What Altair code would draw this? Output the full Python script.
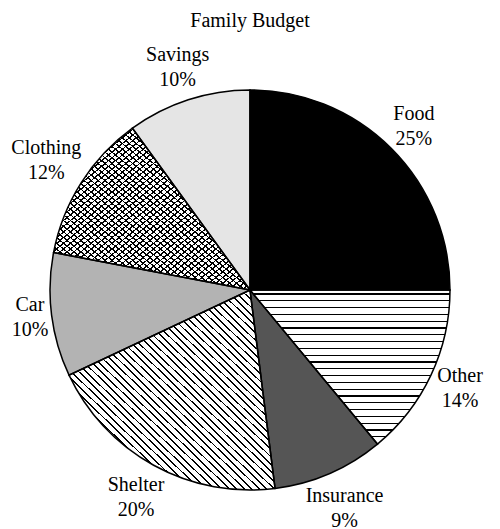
import math
import altair as alt
import pandas as pd

# ---- data ----
categories = ["Food", "Other", "Insurance", "Shelter", "Car", "Clothing", "Savings"]
percents = [25, 14, 9, 20, 10, 12, 10]
base_fills = ["#000000", "#ffffff", "#555555", "#ffffff", "#b3b3b3", "#ffffff", "#e5e5e5"]
labels = [f"{c}\n{p}%" for c, p in zip(categories, percents)]

TITLE = "Family Budget"
FONT = "Liberation Serif"
FONT_SIZE = 20
LINE_H = 25
R = 200
CX, CY = 242, 242
TOP_PAD = 40
# label distance: clear the circle by a gap plus the label's half extent
GAP, HALF_CHAR, HALF_H = 10, 3.2, 18

df = pd.DataFrame({
    "category": categories,
    "value": percents,
    "order": list(range(len(categories))),
    "label": labels,
})

theta_scale = alt.Scale(domain=[0, 100], range=[0, 2 * math.pi])


def slice_angles(name):
    i = categories.index(name)
    start = sum(percents[:i])
    end = start + percents[i]
    return start / 100 * 2 * math.pi, end / 100 * 2 * math.pi


def arc_bbox(name, r=R):
    a0, a1 = slice_angles(name)
    pts = [(0.0, 0.0), (r * math.sin(a0), -r * math.cos(a0)), (r * math.sin(a1), -r * math.cos(a1))]
    for k in range(0, 5):
        a = k * math.pi / 2
        if a0 < a < a1:
            pts.append((r * math.sin(a), -r * math.cos(a)))
    xs = [p[0] for p in pts]
    ys = [p[1] for p in pts]
    return max(xs) - min(xs), max(ys) - min(ys)


def stripes(x1, y1, x2, y2, span, spacing, width, ink, paper):
    period = spacing / span
    lw = width / span
    stops = [{"offset": 0, "color": paper}]
    t = period / 2
    while t + lw < 1:
        a = round(t, 5)
        b = round(t + lw, 5)
        stops += [
            {"offset": a, "color": paper},
            {"offset": a, "color": ink},
            {"offset": b, "color": ink},
            {"offset": b, "color": paper},
        ]
        t += period
    stops.append({"offset": 1, "color": paper})
    return {"gradient": "linear", "x1": x1, "y1": y1, "x2": x2, "y2": y2, "stops": stops}


def diag_span(name):
    w, h = arc_bbox(name)
    return 2 / math.sqrt(1 / w ** 2 + 1 / h ** 2)


w_o, h_o = arc_bbox("Other")
grad_other = stripes(0, 0, 0, 1, h_o, 6.8, 1.2, "#000000", "#ffffff")
grad_shelter = stripes(0, 1, 1, 0, diag_span("Shelter"), 5.2, 1.3, "#000000", "#ffffff")
grad_cloth_a = stripes(0, 1, 1, 0, diag_span("Clothing"), 4.4, 1.2, "#000000", "#ffffff")
grad_cloth_b = stripes(0, 0, 1, 1, diag_span("Clothing"), 4.4, 1.2, "#000000", "rgba(255,255,255,0)")

base = (
    alt.Chart(df)
    .transform_window(end="sum(value)", sort=[alt.SortField("order")], frame=[None, 0])
    .transform_calculate(
        start="datum.end - datum.value",
        mid="datum.end - datum.value / 2",
    )
    .transform_calculate(
        lr=(f"{R} + {GAP} + {HALF_CHAR} * max(length(datum.category), length(toString(datum.value)) + 1)"
            f" * abs(sin(datum.mid / 100 * 2 * PI)) + {HALF_H} * abs(cos(datum.mid / 100 * 2 * PI))")
    )
)

enc = dict(
    theta=alt.Theta("start:Q", scale=theta_scale),
    theta2=alt.Theta2("end:Q"),
    x=alt.value(CX),
    y=alt.value(CY),
)

fills = base.mark_arc(radius=R, strokeWidth=0).encode(
    color=alt.Color("category:N", scale=alt.Scale(domain=categories, range=base_fills), legend=None),
    **enc,
)


def pattern(name, grad):
    return base.transform_filter(alt.datum.category == name).mark_arc(
        radius=R, fill=grad, strokeWidth=0
    ).encode(**enc)


outline = base.mark_arc(radius=R, fillOpacity=0, stroke="#000000", strokeWidth=1.5).encode(**enc)

text = base.mark_text(
    font=FONT, fontSize=FONT_SIZE, lineBreak="\n", lineHeight=LINE_H,
    align="center", baseline="middle", color="#000000", dy=-LINE_H / 2,
).encode(
    theta=alt.Theta("mid:Q", scale=theta_scale),
    radius=alt.Radius("lr:Q", scale=None),
    text="label:N",
    x=alt.value(CX),
    y=alt.value(CY),
)

chart = alt.layer(
    fills,
    pattern("Other", grad_other),
    pattern("Shelter", grad_shelter),
    pattern("Clothing", grad_cloth_a),
    pattern("Clothing", grad_cloth_b),
    outline,
    text,
).properties(
    width=484,
    height=481,
    padding={"top": TOP_PAD, "left": 0, "right": 0, "bottom": 0},
    autosize=alt.AutoSizeParams(type="none"),
    title=alt.Title(TITLE, font=FONT, fontSize=FONT_SIZE, fontWeight="normal", color="#000000",
                    anchor="middle", offset=14),
).configure_view(stroke=None)

chart.save("out.html", embed_options={"renderer": "svg", "actions": False})
